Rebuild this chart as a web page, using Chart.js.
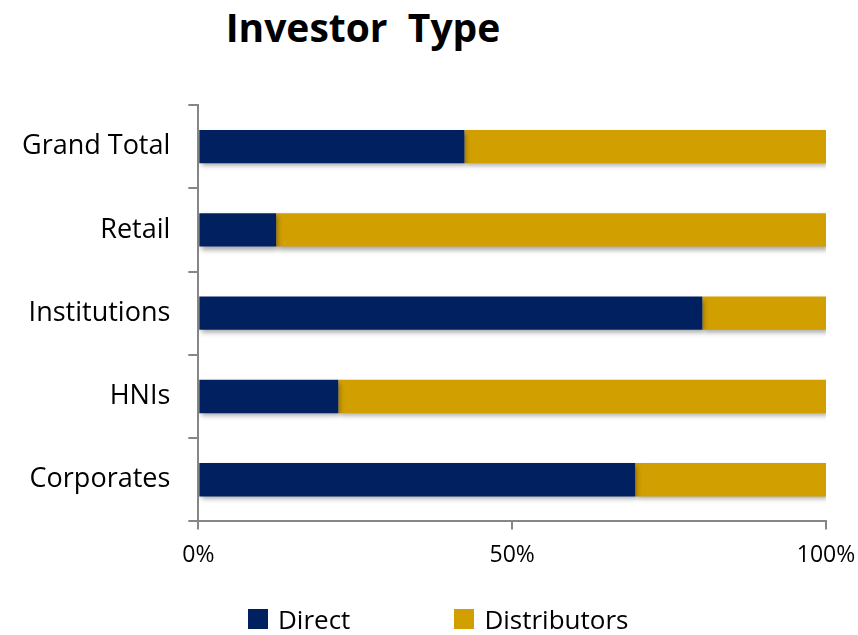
<!DOCTYPE html>
<html>
<head>
<meta charset="utf-8">
<script src="https://cdn.jsdelivr.net/npm/chart.js@4/dist/chart.umd.min.js"></script>
<style>
  body { margin: 0; background: #fff; }
  #wrap { position: relative; width: 858px; height: 635px; font-family: "Open Sans", sans-serif; }
  #title { position: absolute; top: 0px; left: 0; width: 726px; text-align: center;
           font-size: 39px; font-weight: bold; color: #000; white-space: pre; }
  #legend { position: absolute; top: 601px; left: 248px; display: flex; font-size: 26px; color: #000; }
  .item { display: flex; align-items: center; }
  .box { width: 20px; height: 20px; margin-right: 10px; }
  canvas { position: absolute; top: 0; left: 0; }
</style>
</head>
<body>
<div id="wrap">
  <div id="title">Investor  Type</div>
  <canvas id="chart" width="858" height="635"></canvas>
  <div id="legend"></div>
</div>
<script>
const categories = ["Grand Total", "Retail", "Institutions", "HNIs", "Corporates"];
const direct = [42.4, 12.4, 80.3, 22.3, 69.6];
const distributors = [57.6, 87.6, 19.7, 77.7, 30.4];
const xTicks = [0, 50, 100];
const seriesNames = ["Direct", "Distributors"];
const colors = ["#002060", "#D19F00"];

const shadow = {
  id: 'shadow',
  beforeDatasetsDraw(chart) {
    const ctx = chart.ctx;
    ctx.save();
    ctx.shadowColor = 'rgba(0,0,0,0.35)';
    ctx.shadowBlur = 5;
    ctx.shadowOffsetX = 2;
    ctx.shadowOffsetY = 3;
  },
  afterDatasetsDraw(chart) {
    chart.ctx.restore();
  }
};

const legend = document.getElementById('legend');
seriesNames.forEach((name, i) => {
  const item = document.createElement('div');
  item.className = 'item';
  if (i > 0) item.style.marginLeft = '104px';
  item.innerHTML = `<span class="box" style="background:${colors[i]}"></span>${name}`;
  legend.appendChild(item);
});

new Chart(document.getElementById('chart'), {
  type: 'bar',
  data: {
    labels: categories,
    datasets: [
      { label: seriesNames[0], data: direct, backgroundColor: colors[0], barPercentage: 0.4, categoryPercentage: 1 },
      { label: seriesNames[1], data: distributors, backgroundColor: colors[1], barPercentage: 0.4, categoryPercentage: 1 }
    ]
  },
  options: {
    indexAxis: 'y',
    responsive: false,
    animation: false,
    layout: { padding: { top: 105, left: 4, right: 13, bottom: 54 } },
    plugins: {
      legend: { display: false },
      title: { display: false },
      tooltip: { enabled: false }
    },
    scales: {
      x: {
        stacked: true,
        min: 0,
        max: 100,
        afterBuildTicks: axis => { axis.ticks = xTicks.map(v => ({ value: v })); },
        afterFit: axis => { axis.paddingRight = 32; },
        ticks: { callback: v => v + '%', color: '#000', font: { family: 'Open Sans', size: 23 }, padding: 12, maxRotation: 0 },
        grid: { drawOnChartArea: false, tickLength: 8, color: '#868686', lineWidth: 2 },
        border: { color: '#868686', width: 2 }
      },
      y: {
        stacked: true,
        ticks: { color: '#000', font: { family: 'Open Sans', size: 27 }, padding: 18 },
        grid: { drawOnChartArea: false, offset: true, tickLength: 10, color: '#868686', lineWidth: 2 },
        border: { color: '#868686', width: 2 }
      }
    }
  },
  plugins: [shadow]
});
</script>
</body>
</html>
